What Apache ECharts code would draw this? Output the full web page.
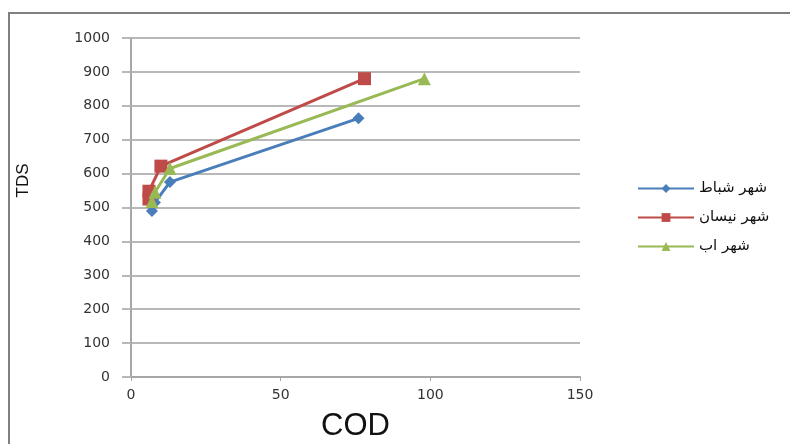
<!DOCTYPE html>
<html>
<head>
<meta charset="utf-8">
<script src="https://cdn.jsdelivr.net/npm/echarts@6/dist/echarts.min.js"></script>
<style>
  html, body { margin: 0; padding: 0; background: #fff; }
  #main { width: 790px; height: 444px; }
</style>
</head>
<body>
<div id="main"></div>
<script>
// series names (legend)
var seriesNames = ["شهر شباط", "شهر نيسان", "شهر اب"];
// [COD, TDS] points per series
var febData = [[7, 490], [8, 515], [13, 575], [76, 763]];
var aprData = [[6, 525], [6, 548], [10, 622], [78, 880]];
var augData = [[7, 518], [8, 545], [13, 615], [98, 880]];
// axis ranges
var xTicks = [0, 50, 100, 150];
var yTicks = [0, 100, 200, 300, 400, 500, 600, 700, 800, 900, 1000];

var myChart = echarts.init(document.getElementById("main"));

function makeSeries(name, data, symbol, color, size) {
  return {
    name: name,
    type: "line",
    data: data,
    symbol: symbol,
    symbolSize: size,
    lineStyle: { color: color, width: 3 },
    itemStyle: { color: color },
    z: 3
  };
}

var option = {
  animation: false,
  backgroundColor: "#fff",
  // outer chart frame
  graphic: [
    {
      type: "rect",
      shape: { x: 9, y: 13, width: 900, height: 500 },
      style: { fill: "none", stroke: "#808080", lineWidth: 2 },
      z: 0
    }
  ],
  grid: {
    left: 131,
    right: 210,
    top: 38,
    bottom: 67,
    outerBoundsMode: "none"
  },
  legend: {
    orient: "vertical",
    left: 632,
    top: 176,
    itemWidth: 56,
    itemHeight: 11,
    itemGap: 14,
    textStyle: {
      fontFamily: "DejaVu Sans",
      fontSize: 15,
      color: "#111"
    },
    data: seriesNames
  },
  xAxis: {
    type: "value",
    min: xTicks[0],
    max: xTicks[xTicks.length - 1],
    interval: 50,
    name: "COD",
    nameLocation: "middle",
    nameGap: 34,
    nameTextStyle: {
      fontFamily: "Liberation Sans",
      fontSize: 31,
      color: "#111"
    },
    axisLine: { lineStyle: { color: "#a6a6a6", width: 2 } },
    axisTick: { show: true, length: 4, lineStyle: { color: "#a6a6a6" } },
    axisLabel: {
      fontFamily: "DejaVu Sans",
      fontSize: 14,
      color: "#333",
      margin: 11
    },
    splitLine: { show: false }
  },
  yAxis: {
    type: "value",
    min: yTicks[0],
    max: yTicks[yTicks.length - 1],
    interval: 100,
    name: "TDS",
    nameLocation: "middle",
    nameGap: 99,
    nameRotate: 90,
    nameTextStyle: {
      fontFamily: "Liberation Sans",
      fontSize: 17,
      color: "#111",
      // nudge the title upward like the original
      padding: [0, 0, 0, 54]
    },
    axisLine: { show: true, lineStyle: { color: "#a6a6a6", width: 2 } },
    // outside ticks look like the gridlines poking out
    axisTick: { show: true, length: 9, lineStyle: { color: "#b8b8b8", width: 2 } },
    axisLabel: {
      fontFamily: "DejaVu Sans",
      fontSize: 14,
      color: "#333",
      margin: 21,
      formatter: function (v) { return String(v); }
    },
    splitLine: { lineStyle: { color: "#b8b8b8", width: 2 } }
  },
  series: [
    makeSeries(seriesNames[0], febData, "diamond", "#4a7ebb", 12),
    makeSeries(seriesNames[1], aprData, "rect", "#be4b48", 13),
    makeSeries(seriesNames[2], augData, "triangle", "#98b954", 13)
  ]
};

myChart.setOption(option);
</script>
</body>
</html>
